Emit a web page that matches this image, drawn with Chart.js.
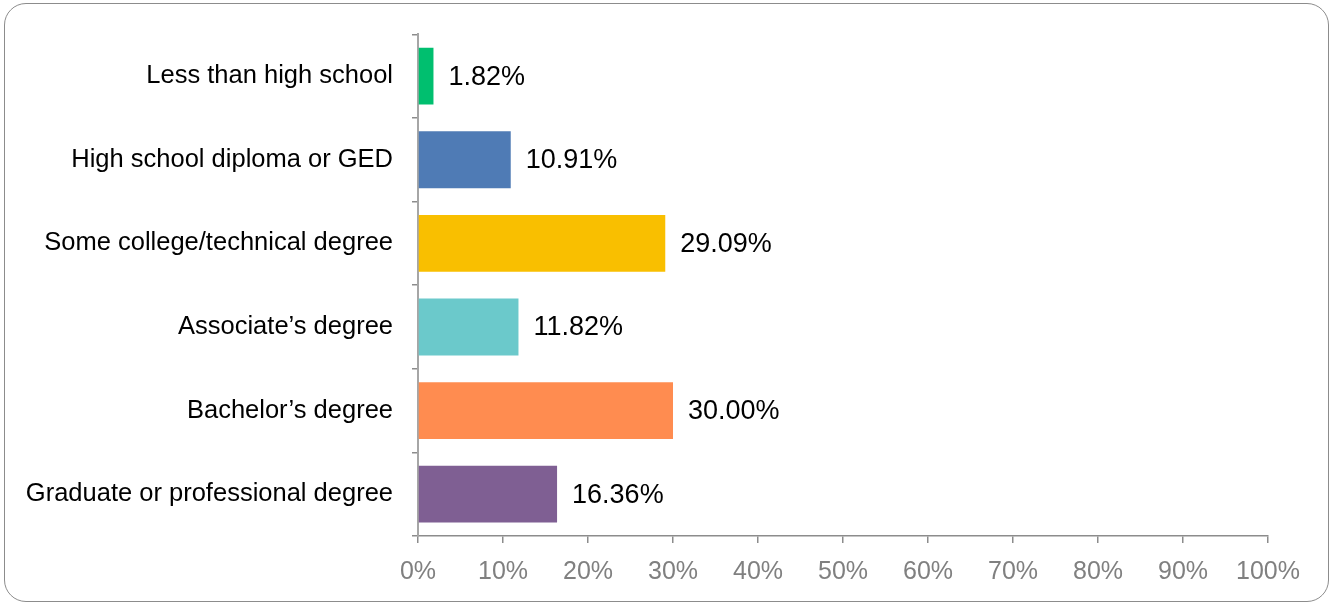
<!DOCTYPE html>
<html>
<head>
<meta charset="utf-8">
<script src="https://cdn.jsdelivr.net/npm/chart.js@4/dist/chart.umd.min.js"></script>
<style>
  html, body { margin: 0; padding: 0; background: #ffffff; }
  #wrap { position: relative; width: 1330px; height: 603px; }
  #frame {
    position: absolute; left: 4px; top: 3px; width: 1323px; height: 597px;
    border: 1.5px solid #8c8c8c; border-radius: 22px; pointer-events: none;
  }
  canvas { position: absolute; left: 0; top: 0; }
</style>
</head>
<body>
<div id="wrap">
  <canvas id="chart" width="1330" height="603"></canvas>
  <div id="frame"></div>
</div>
<script>
const categories = [
  "Less than high school",
  "High school diploma or GED",
  "Some college/technical degree",
  "Associate\u2019s degree",
  "Bachelor\u2019s degree",
  "Graduate or professional degree"
];
const shares = [1.82, 10.91, 29.09, 11.82, 30.00, 16.36];
const barColors = ["#00BF6F", "#4F7BB5", "#F9BF00", "#6BC9CB", "#FF8C50", "#7F5F93"];
const xTicks = [0, 10, 20, 30, 40, 50, 60, 70, 80, 90, 100];

const FONT = "'Liberation Sans', Arial, sans-serif";

// Writes each bar's percentage just past its end
const valueLabels = {
  id: "valueLabels",
  afterDatasetsDraw(chart) {
    const ctx = chart.ctx;
    const meta = chart.getDatasetMeta(0);
    ctx.save();
    ctx.fillStyle = "#000000";
    ctx.font = "27px " + FONT;
    ctx.textAlign = "left";
    ctx.textBaseline = "middle";
    meta.data.forEach((bar, i) => {
      ctx.fillText(shares[i].toFixed(2) + "%", bar.x + 15, bar.y + 1);
    });
    ctx.restore();
  }
};

new Chart(document.getElementById("chart"), {
  type: "bar",
  data: {
    labels: categories,
    datasets: [{
      data: shares,
      backgroundColor: barColors,
      borderWidth: 0,
      barPercentage: 0.68,
      categoryPercentage: 1.0
    }]
  },
  options: {
    indexAxis: "y",
    responsive: false,
    animation: false,
    layout: { padding: { top: 31, right: 62, left: 0, bottom: 0 } },
    plugins: { legend: { display: false }, tooltip: { enabled: false } },
    scales: {
      x: {
        min: 0,
        max: 100,
        afterBuildTicks(scale) { scale.ticks = xTicks.map(v => ({ value: v })); },
        afterFit(scale) { scale.height = 67; },
        grid: { drawOnChartArea: false, drawTicks: true, tickLength: 7, color: "#8c8c8c", lineWidth: 1.5 },
        border: { color: "#8c8c8c", width: 1.5 },
        ticks: {
          color: "#808080",
          font: { family: FONT, size: 25 },
          padding: 14,
          autoSkip: false,
          maxRotation: 0,
          callback: v => v + "%"
        }
      },
      y: {
        afterFit(scale) { scale.width = 418; },
        grid: { drawOnChartArea: false, drawTicks: true, tickLength: 6, offset: true, color: "#8c8c8c", lineWidth: 1.5 },
        border: { color: "#a6a6a6", width: 2 },
        ticks: {
          color: "#000000",
          font: { family: FONT, size: 25.5 },
          padding: 19,
          autoSkip: false
        }
      }
    }
  },
  plugins: [valueLabels]
});
</script>
</body>
</html>
